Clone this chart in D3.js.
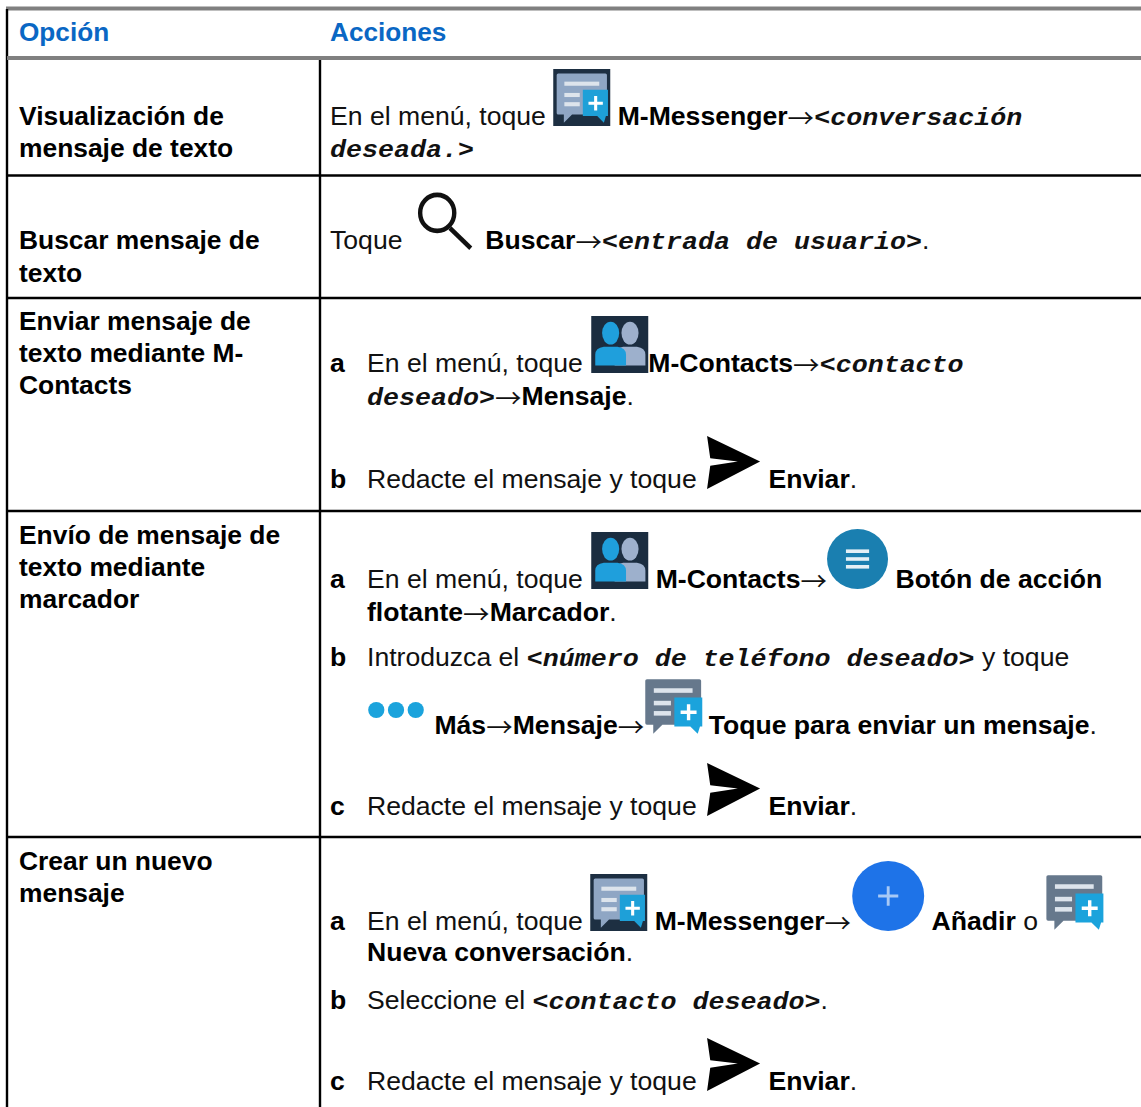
<!DOCTYPE html>
<html lang="es">
<head>
<meta charset="utf-8">
<title>Opciones de mensajes</title>
<script src="https://cdn.jsdelivr.net/npm/d3@7"></script>
<style>
    html, body { margin: 0; padding: 0; background: #fff; }
    svg { display: block; }
    .t-r { font: 26.6px "Liberation Sans", Arial, sans-serif; fill: #111; }
    .t-b { font: bold 26.6px "Liberation Sans", Arial, sans-serif; fill: #000; }
    .t-o { font: bold 26.4px "Liberation Sans", Arial, sans-serif; fill: #000; }
    .t-a { font: 26.6px "Noto Sans CJK JP", sans-serif; fill: #111; }
    .t-i { font: italic bold 23.5px "Liberation Mono", monospace; fill: #111; }
    .t-h { font: bold 26.2px "Liberation Sans", Arial, sans-serif; fill: #0a67c4; }
</style>
</head>
<body>
<div id="app"></div>
<script>
// ----- Table content -----

const columns = ["Opción", "Acciones"];

const options = [
    ["Visualización de", "mensaje de texto"],
    ["Buscar mensaje de", "texto"],
    ["Enviar mensaje de", "texto mediante M-", "Contacts"],
    ["Envío de mensaje de", "texto mediante", "marcador"],
    ["Crear un nuevo", "mensaje"]
];

// r = regular, b = bold, i = mono italic, a = arrow, icon = inline picture
const actionLines = [
    { row: 0, step: "", runs: [["r", "En el menú, toque "], ["icon", "messageDark"], ["b", " M-Messenger"], ["a", "→"], ["i", "<conversación"]] },
    { row: 0, step: "", runs: [["i", "deseada.>"]] },
    { row: 1, step: "", runs: [["r", "Toque "], ["icon", "search"], ["b", " Buscar"], ["a", "→"], ["i", "<entrada de usuario>"], ["r", "."]] },
    { row: 2, step: "a", runs: [["r", "En el menú, toque "], ["icon", "contacts"], ["b", "M-Contacts"], ["a", "→"], ["i", "<contacto"]] },
    { row: 2, step: "", runs: [["i", "deseado>"], ["a", "→"], ["b", "Mensaje"], ["r", "."]] },
    { row: 2, step: "b", runs: [["r", "Redacte el mensaje y toque "], ["icon", "send"], ["b", " Enviar"], ["r", "."]] },
    { row: 3, step: "a", runs: [["r", "En el menú, toque "], ["icon", "contacts"], ["b", " M-Contacts"], ["a", "→"], ["icon", "menu"], ["b", " Botón de acción"]] },
    { row: 3, step: "", runs: [["b", "flotante"], ["a", "→"], ["b", "Marcador"], ["r", "."]] },
    { row: 3, step: "b", runs: [["r", "Introduzca el "], ["i", "<número de teléfono deseado>"], ["r", " y toque"]] },
    { row: 3, step: "", runs: [["icon", "dots"], ["b", " Más"], ["a", "→"], ["b", "Mensaje"], ["a", "→"], ["icon", "message"], ["b", " Toque para enviar un mensaje"], ["r", "."]] },
    { row: 3, step: "c", runs: [["r", "Redacte el mensaje y toque "], ["icon", "send"], ["b", " Enviar"], ["r", "."]] },
    { row: 4, step: "a", runs: [["r", "En el menú, toque "], ["icon", "messageDark"], ["b", " M-Messenger"], ["a", "→"], ["icon", "plus"], ["b", " Añadir"], ["r", " o "], ["icon", "message"]] },
    { row: 4, step: "", runs: [["b", "Nueva conversación"], ["r", "."]] },
    { row: 4, step: "b", runs: [["r", "Seleccione el "], ["i", "<contacto deseado>"], ["r", "."]] },
    { row: 4, step: "c", runs: [["r", "Redacte el mensaje y toque "], ["icon", "send"], ["b", " Enviar"], ["r", "."]] }
];

// ----- Layout -----

const width = 1141;
const height = 1107;

const xScale = d3.scaleOrdinal().domain(columns).range([19, 330]);
const headerBaseline = 41;
const optionBaselines = [[125, 157], [249, 282], [330, 362, 394], [544, 576, 608], [870, 902]];
const actionBaselines = [125, 157, 249, 372, 405, 488, 588, 621, 666, 734, 815, 930, 961, 1009, 1090];
const stepTextX = 367;
const rowRules = [175.5, 298, 511, 837];
const leftX = 7;
const dividerX = 320;
const monoStretch = 16 / 14.1; // the mono face is wider than it is tall in the source
const arrowDrop = 3; // the CJK arrow sits a bit high

// width, height, gap before, gap after
const iconSize = {
    messageDark: [57, 57, 0, 0], message: [57, 57, 1, -1], contacts: [57, 57, 1, 0], search: [55, 58, 7, 6],
    send: [53, 53, 3, 1], menu: [61, 60, 0, 0], plus: [72, 70, 1, 1], dots: [58, 32, 0, 2]
};

// icons are drawn in a 100x100 box
const iconDraw = {
    messageDark(g) {
        g.append("rect").attr("width", 100).attr("height", 100).attr("fill", "#1d2f42");
        bubble(g.append("g").attr("transform", "translate(6,6) scale(0.9)"), "#8fa6c4", "#1ea0d8");
    },
    message(g) { bubble(g, "#66788c", "#1ba3dc"); },
    contacts(g) {
        g.append("rect").attr("width", 100).attr("height", 100).attr("fill", "#1b2d40");
        person(g, 68, "#9db0cc");
        person(g, 34, "#1f9fdc");
    },
    search(g) {
        g.append("circle").attr("cx", 37).attr("cy", 36).attr("r", 31)
            .attr("fill", "none").attr("stroke", "#111").attr("stroke-width", 8);
        g.append("line").attr("x1", 60).attr("y1", 62).attr("x2", 98).attr("y2", 97)
            .attr("stroke", "#111").attr("stroke-width", 8);
    },
    send(g) {
        g.append("path").attr("d", "M0,0 L100,48 L0,100 L6,56 L58,48 L6,42 Z").attr("fill", "#000");
    },
    menu(g) {
        g.append("circle").attr("cx", 50).attr("cy", 50).attr("r", 50).attr("fill", "#1a7fb0");
        g.selectAll("rect").data([34, 47, 60]).enter().append("rect")
            .attr("x", 31).attr("y", d => d).attr("width", 38).attr("height", 6).attr("fill", "#e4f0f6");
    },
    plus(g) {
        g.append("circle").attr("cx", 50).attr("cy", 50).attr("r", 50).attr("fill", "#1e73e8");
        g.append("path").attr("d", "M50,36 V64 M36,50 H64").attr("stroke", "#a8c9f5").attr("stroke-width", 4);
    },
    dots(g) {
        g.selectAll("ellipse").data([16, 50, 84]).enter().append("ellipse")
            .attr("cx", d => d).attr("cy", 25).attr("rx", 14).attr("ry", 25).attr("fill", "#1ba3dc");
    }
};

function bubble(g, body, badge) {
    g.append("path").attr("d", "M3,2 H95 Q98,2 98,5 V82 H30 L14,98 V82 H3 Q0,82 0,79 V5 Q0,2 3,2 Z").attr("fill", body);
    g.selectAll("rect.bar").data([[15, 18, 68], [15, 40, 30], [15, 58, 30]]).enter().append("rect")
        .attr("class", "bar")
        .attr("x", d => d[0]).attr("y", d => d[1]).attr("width", d => d[2]).attr("height", 8)
        .attr("fill", "#dde4ec");
    g.append("path").attr("d", "M51,34 H100 V85 H96 L92,98 L79,85 H51 Z").attr("fill", badge);
    g.append("path").attr("d", "M76,46 V74 M62,60 H90").attr("stroke", "#fff").attr("stroke-width", 6);
}

function person(g, cx, fill) {
    g.append("ellipse").attr("cx", cx).attr("cy", 30).attr("rx", 15).attr("ry", 20).attr("fill", fill);
    g.append("path")
        .attr("d", `M${cx - 27},87 V68 Q${cx - 27},56 ${cx - 12},54 H${cx + 12} Q${cx + 27},56 ${cx + 27},68 V87 Z`)
        .attr("fill", fill);
}

// ----- Main program -----

function main() {
    const svg = d3.select("#app").append("svg")
        .attr("width", width)
        .attr("height", height);

    // Rules
    svg.append("line").attr("x1", leftX - 1).attr("x2", width).attr("y1", 8.5).attr("y2", 8.5)
        .attr("stroke", "#808080").attr("stroke-width", 4);
    svg.append("line").attr("x1", leftX).attr("x2", leftX).attr("y1", 9).attr("y2", height)
        .attr("stroke", "#000").attr("stroke-width", 2.4);
    svg.append("line").attr("x1", dividerX).attr("x2", dividerX).attr("y1", 59).attr("y2", height)
        .attr("stroke", "#000").attr("stroke-width", 2.4);
    svg.selectAll("line.row").data(rowRules).enter().append("line")
        .attr("class", "row")
        .attr("x1", leftX).attr("x2", width)
        .attr("y1", d => d).attr("y2", d => d)
        .attr("stroke", "#000").attr("stroke-width", 2.4);
    svg.append("line").attr("x1", leftX).attr("x2", width).attr("y1", 58).attr("y2", 58)
        .attr("stroke", "#808080").attr("stroke-width", 4);

    // Header
    svg.selectAll("text.t-h").data(columns).enter().append("text")
        .attr("class", "t-h")
        .attr("x", d => xScale(d))
        .attr("y", headerBaseline)
        .text(d => d);

    // Option column
    options.forEach((lines, row) => {
        svg.selectAll(null).data(lines).enter().append("text")
            .attr("class", "t-o")
            .attr("x", xScale(columns[0]))
            .attr("y", (d, i) => optionBaselines[row][i])
            .text(d => d);
    });

    // Action column, runs flow one after another from the line start
    actionLines.forEach((line, i) => {
        const y = actionBaselines[i];
        const hasSteps = actionLines.some(l => l.row === line.row && l.step);
        let x = hasSteps ? stepTextX : xScale(columns[1]);

        if (line.step) {
            svg.append("text").attr("class", "t-b")
                .attr("x", xScale(columns[1]))
                .attr("y", y)
                .text(line.step);
        }

        line.runs.forEach(([kind, value]) => {
            if (kind === "icon") {
                const [w, h, before, after] = iconSize[value];
                const top = value === "dots" ? y - 32 : y + 1 - h;
                const g = svg.append("g")
                    .attr("transform", `translate(${x + before},${top}) scale(${w / 100},${h / 100})`);
                iconDraw[value](g);
                x += before + w + after;
            } else {
                const stretch = kind === "i" ? monoStretch : 1;
                const drop = kind === "a" ? arrowDrop : 0;
                const t = svg.append("text")
                    .attr("class", "t-" + kind)
                    .attr("transform", `translate(${x},${y + drop}) scale(${stretch},1)`)
                    .style("white-space", "pre")
                    .text(value);
                x += t.node().getComputedTextLength() * stretch;
            }
        });
    });
}

main();
</script>
</body>
</html>
